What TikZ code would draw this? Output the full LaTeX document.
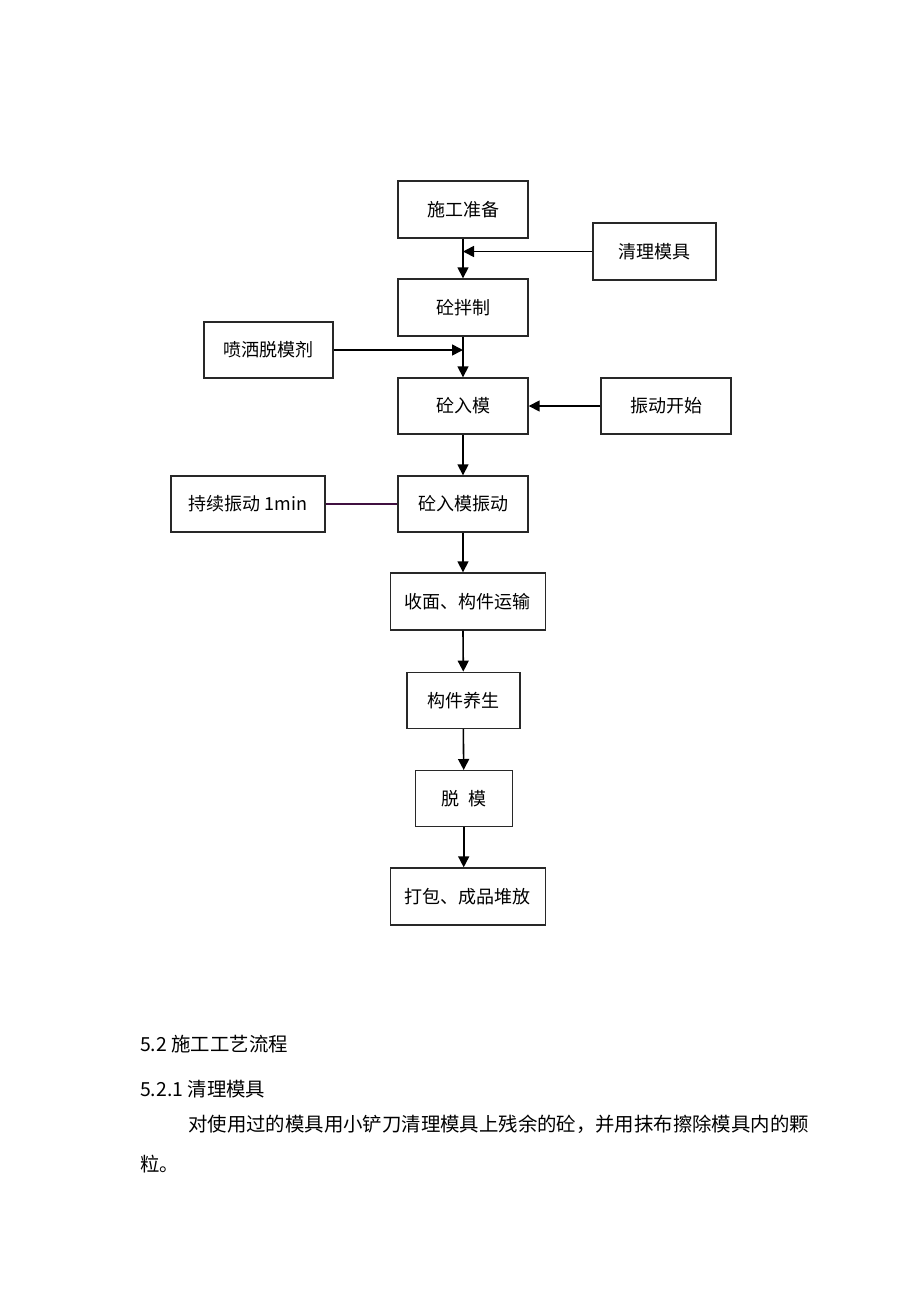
\documentclass[tikz,border=0pt]{standalone}
\usepackage{fontspec}
\newfontfamily\cjk{Noto Sans CJK SC}
\usepackage{xcolor}
\usepackage{tikz}
\usetikzlibrary{positioning,calc,arrows.meta}
\definecolor{BoxGray}{RGB}{40,40,40}
\definecolor{LinkPurple}{RGB}{64,16,64}

\begin{document}
\begin{tikzpicture}[
        x=1pt, y=-1pt,
        % --- STYLE HOP ---
        stepbox/.style={
            rectangle,
            draw=BoxGray,
            line width=1.4pt,
            fill=white,
            inner sep=0pt,
            minimum width=130pt,
            minimum height=57pt,
            font=\cjk\fontsize{18}{22}\selectfont
        },
        % Style duong noi
        flow/.style={
            draw=black,
            line width=1.6pt,
            -{Triangle[length=11pt,width=11pt]}
        },
        % Style van ban
        bodytext/.style={
            anchor=west,
            inner sep=0pt,
            font=\cjk\fontsize{19.4}{23}\selectfont
        }
    ]

        \useasboundingbox (0,0) rectangle (920,1302);

        % --- CAC HOP CHINH ---
        \node[stepbox] (prep) at (463,209.5) {施工准备};
        \node[stepbox, minimum width=123pt] (clean) at (654.5,251.5) {清理模具};
        \node[stepbox] (mix) at (463,307.5) {砼拌制};
        \node[stepbox, minimum width=129pt, minimum height=56pt] (spray) at (268.5,350) {喷洒脱模剂};
        \node[stepbox, minimum height=56pt] (pour) at (463,406) {砼入模};
        \node[stepbox, minimum height=56pt] (shake) at (666,406) {振动开始};
        \node[stepbox, minimum width=154pt, minimum height=56pt] (keep) at (248,504) {持续振动 1min};
        \node[stepbox, minimum height=56pt] (vib) at (463,504) {砼入模振动};
        \node[stepbox, minimum width=155pt] (finish) at (467.7,601.5) {收面、构件运输};
        \node[stepbox, minimum width=113pt, minimum height=56pt] (cure) at (463.3,700.3) {构件养生};
        \node[stepbox, minimum width=97pt, minimum height=56pt] (demold) at (463.7,798.7) {脱\hspace{9pt}模};
        \node[stepbox, minimum width=155pt] (pack) at (467.7,896.5) {打包、成品堆放};

        % --- DUONG NOI ---
        \draw[flow] (prep.south) -- (mix.north);
        \draw[flow] (clean.west) -- (prep.south |- clean.west);
        \draw[flow] (mix.south) -- (pour.north);
        \draw[flow] (spray.east) -- (mix.south |- spray.east);
        \draw[flow] (shake.west) -- (pour.east);
        \draw[flow] (pour.south) -- (vib.north);
        \draw[LinkPurple, line width=1.4pt] (keep.east) -- (vib.west);
        \draw[flow] (vib.south) -- (vib.south |- finish.north);
        \draw[flow] (vib.south |- finish.south) -- (cure.north);
        \draw[flow] (cure.south) -- (demold.north);
        \draw[flow] (demold.south) -- (demold.south |- pack.north);

        % --- VAN BAN ---
        \node[bodytext] (sec) at (140,1044) {5.2 施工工艺流程};
        \node[bodytext] (subsec) at (140,1089) {5.2.1 清理模具};
        \node[bodytext] (para) at (188,1124) {对使用过的模具用小铲刀清理模具上残余的砼，并用抹布擦除模具内的颗};
        \node[bodytext] (paraend) at (140,1164) {粒。};

    \end{tikzpicture}
\end{document}
